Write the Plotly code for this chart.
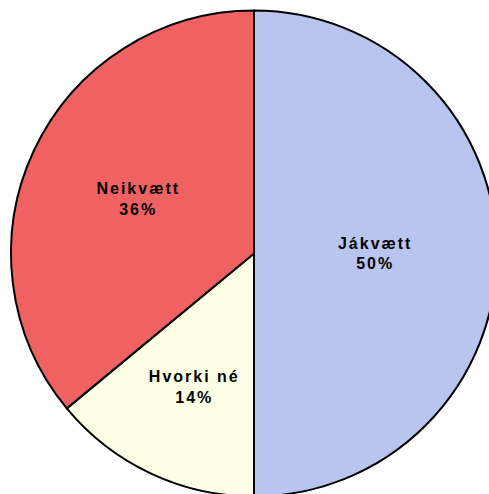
import plotly.graph_objects as go

labels = ["Jákvætt", "Hvorki né", "Neikvætt"]
values = [50, 14, 36]
colors = ["#B9C5EE", "#FCFFE6", "#F06262"]

base = "%{label}<br>%{percent:.0%}"
pad = "\u00a0" * 4
templates = [base, pad + "%{label}<br>" + pad + "%{percent:.0%}<br>\u00a0<br>\u00a0", base]

fig = go.Figure(go.Pie(
    labels=labels,
    values=values,
    sort=False,
    direction="clockwise",
    rotation=0,
    marker=dict(colors=colors, line=dict(color="black", width=2)),
    texttemplate=templates,
    textposition="inside",
    insidetextorientation="horizontal",
    textfont=dict(family="Liberation Sans, Arial, sans-serif", size=16, color="black", weight="bold"),
    showlegend=False,
    hoverinfo="skip",
))

fig.update_layout(
    width=497, height=497,
    margin=dict(l=11, r=0, t=10, b=0),
    paper_bgcolor="white",
    uniformtext=dict(minsize=16, mode="show"),
)

post = """
document.body.style.margin='0';
document.body.style.overflow='hidden';
document.querySelectorAll('.slicetext text').forEach(function(t){t.style.letterSpacing='2px';});
"""
fig.write_html("out.html", post_script=post, config={"displayModeBar": False})
